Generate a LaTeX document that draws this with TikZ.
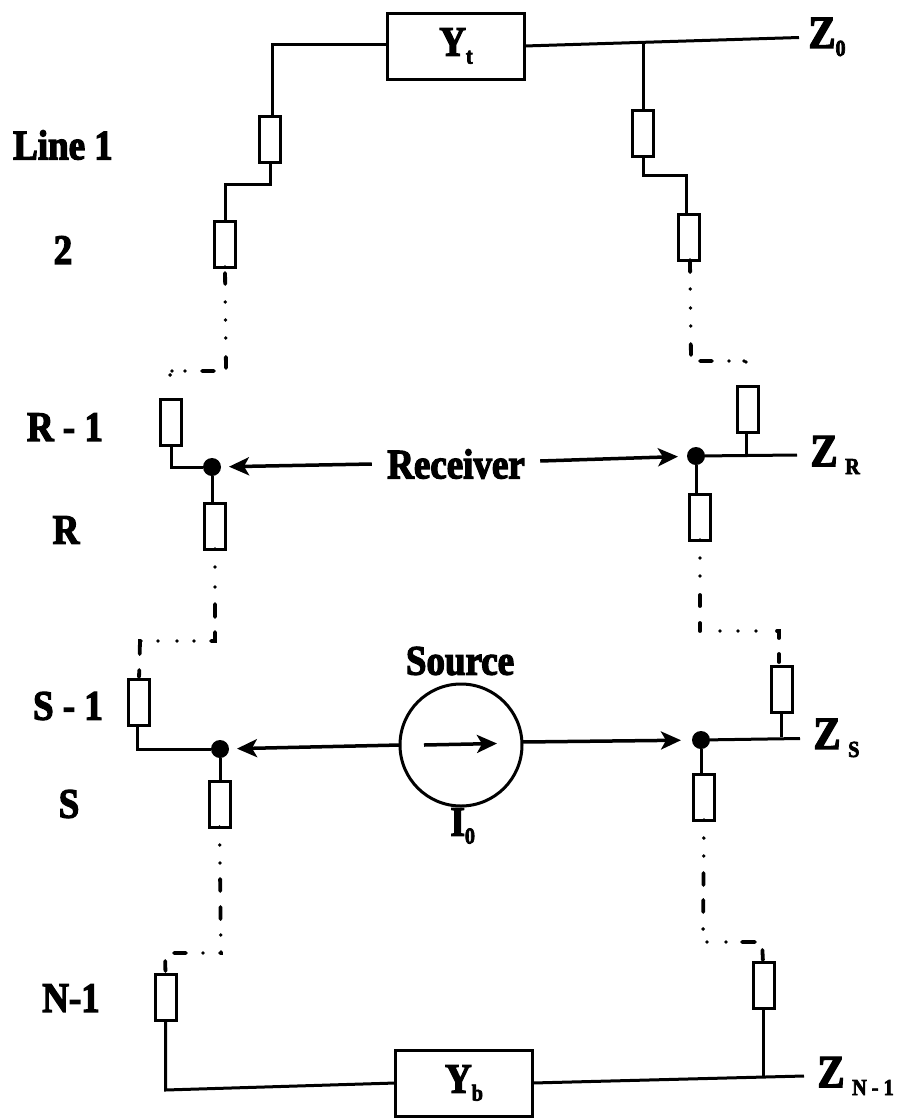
\documentclass[tikz,border=0pt]{standalone}
\usepackage{fontspec}
\setmainfont{Liberation Serif}[BoldFeatures={FakeStretch=0.88,FakeBold=3}]
\usetikzlibrary{arrows.meta}
\newcommand{\subtxt}[1]{\raisebox{-8pt}{\fontsize{23}{23}\selectfont #1}}
\tikzset{
  res/.style={draw,minimum width=21pt,minimum height=46pt,inner sep=0pt,outer sep=0pt},
  wall/.style={draw,minimum width=137pt,minimum height=66pt,inner sep=0pt,outer sep=0pt},
  jn/.style={circle,fill=black,minimum size=18pt,inner sep=0pt,outer sep=0pt},
  lbl/.style={font=\fontsize{42}{44}\selectfont\bfseries,inner sep=0pt},
  zlbl/.style={font=\fontsize{46}{48}\selectfont\bfseries,inner sep=0pt,anchor=west},
  arw/.style={-{Stealth[length=20pt,width=18pt,inset=5pt]},line width=3.5pt},
  brk/.style={line cap=round,line width=3.8pt,dash pattern=#1}
}
\begin{document}
\begin{tikzpicture}[x=1pt,y=-1pt,line width=3pt]
  \useasboundingbox (0,0) rectangle (900,1120);

  % end boxes and source
  \node[wall,lbl,draw] (yt) at (456,46) {Y\subtxt{t}};
  \node[wall,lbl,draw] (yb) at (464,1083) {Y\subtxt{b}};
  \node[circle,draw,minimum size=122pt,inner sep=0pt,outer sep=0pt] (src) at (461,745) {};

  % left leg
  \node[res] (la) at (270,139) {};
  \node[res] (lb) at (225,244) {};
  \node[res] (lc) at (171,422) {};
  \node[res] (ld) at (215,526) {};
  \node[res] (le) at (139,702) {};
  \node[res] (lf) at (219.5,804) {};
  \node[res] (lg) at (165.5,997) {};

  % right leg
  \node[res] (ra) at (643,133) {};
  \node[res] (rb) at (689,237) {};
  \node[res] (rc) at (747.5,409.5) {};
  \node[res] (rd) at (700,517) {};
  \node[res] (re) at (782,689) {};
  \node[res] (rf) at (704,797) {};
  \node[res] (rg) at (764,985) {};

  % junctions
  \node[jn] (jrl) at (212,467) {};
  \node[jn] (jrr) at (696,456) {};
  \node[jn] (jsl) at (220,749) {};
  \node[jn] (jsr) at (701,740) {};

  % free ends of the lines
  \coordinate (ez0) at (799,37.5);
  \coordinate (ezr) at (797,455);
  \coordinate (ezs) at (800,738.5);
  \coordinate (ezn) at (804,1076);
  \coordinate (top) at (643,41);
  \coordinate (srca) at (424,745);
  \coordinate (srcb) at (497,743.5);

  % labels
  \node[lbl] (line1) at (63,145) {Line 1};
  \node[lbl] (l2) at (63,250) {2};
  \node[lbl] (lr1) at (65,427) {R - 1};
  \node[lbl] (lr) at (66,530) {R};
  \node[lbl] (ls1) at (68,706) {S - 1};
  \node[lbl] (ls) at (69,804) {S};
  \node[lbl] (ln1) at (71,998) {N-1};
  \node[zlbl] (z0) at (807,37) {Z\subtxt{0}};
  \node[zlbl] (zr) at (809,455) {Z\,\subtxt{R}};
  \node[zlbl] (zs) at (812,738) {Z\,\subtxt{S}};
  \node[zlbl] (zn) at (816,1076) {Z\,\subtxt{N - 1}};
  \node[lbl,inner xsep=14pt] (recv) at (456,464) {Receiver};
  \node[lbl] (srcname) at (460,661) {Source};
  \node[lbl,anchor=west] (i0) at (449,826) {I\subtxt{0}};

  % solid lines
  \draw ([yshift=2pt]yt.west) -| ([xshift=2pt]la.north);
  \draw (la.south) -- ++(0,22) -| (lb.north);
  \draw (lc.south) |- (jrl);
  \draw (jrl.south) -- (jrl.south |- ld.north);
  \draw (le.south) ++(-2,0) |- (jsl);
  \draw (jsl.south) -- (jsl.south |- lf.north);
  \draw (lg.south) -- ++(0,70) coordinate (lgb) -- (yb.west);
  \draw (yt.east) -- (ez0);
  \draw (top) -- (ra.north);
  \draw (ra.south) -- ++(0,19) -| ([xshift=-3pt]rb.north);
  \draw (jrr) -- (ezr);
  \draw ([xshift=-1pt]rc.south) -- ++(0,21);
  \draw (jrr.south) -- (jrr.south |- rd.north);
  \draw (jsr) -- (ezs);
  \draw ([xshift=-1pt]re.south) -- ++(0,25);
  \draw (jsr.south) -- (jsr.south |- rf.north);
  \draw (yb.east) -- (ezn);
  \draw (rg.south) ++(-1,0) -- ++(0,69);

  % broken lines
  \draw[brk={on 0pt off 6pt on 11pt off 18pt on 0pt off 18pt on 0pt off 18pt on 0pt off 19pt on 11pt off 15pt on 12pt off 17pt on 0pt off 13pt on 0pt off 6pt on 0pt off 100pt}]
    (lb.south) -- (226,371) -- (170,371) -- (lc.north);
  \draw[brk={on 12pt off 17pt on 0pt off 19pt on 0pt off 18pt on 0pt off 18pt on 11pt off 15pt on 12pt off 17pt on 0pt off 15pt on 0pt off 3pt on 0pt off 100pt}]
    ([xshift=1pt]rb.south) -- (691,361) -- (746,361) -- ([xshift=-1pt]rc.north);
  \draw[brk={on 0pt off 18pt on 0pt off 20pt on 0pt off 17pt on 13pt off 15pt on 13pt off 17pt on 0pt off 17pt on 0pt off 19pt on 0pt off 17pt on 14pt off 16pt on 7pt off 100pt}]
    (ld.south) -- (215,641) -- (140,641) -- (le.north);
  \draw[brk={on 0pt off 18pt on 0pt off 18pt on 0pt off 19pt on 11pt off 17pt on 8pt off 20pt on 0pt off 18pt on 0pt off 18pt on 0pt off 21pt on 9pt off 16pt on 8pt off 100pt}]
    (rd.south) -- (700,631) -- (779,631) -- ([xshift=-3pt]re.north);
  \draw[brk={on 0pt off 18pt on 0pt off 18pt on 0pt off 16pt on 12pt off 16pt on 12pt off 16pt on 0pt off 17pt on 2pt off 17pt on 0pt off 17pt on 12pt off 17pt on 10pt off 100pt}]
    (lf.south) -- (221,953) -- (165,953) -- (lg.north);
  \draw[brk={on 0pt off 18pt on 0pt off 18pt on 0pt off 17pt on 12pt off 15pt on 12pt off 17pt on 0pt off 17pt on 0pt off 19pt on 0pt off 16pt on 13pt off 15pt on 10pt off 100pt}]
    (rf.south) -- (703,942) -- (762,942) -- ([xshift=-1pt]rg.north);

  % arrows
  \draw[arw,shorten >=8pt] (recv.west) -- (jrl);
  \draw[arw,shorten >=9pt] ([yshift=3pt]recv.east) -- (jrr);
  \draw[arw,shorten >=8pt] (src.west) -- (jsl);
  \draw[arw,shorten >=11pt] ([yshift=3pt]src.east) -- (jsr);
  \draw[arw] (srca) -- (srcb);
\end{tikzpicture}
\end{document}
